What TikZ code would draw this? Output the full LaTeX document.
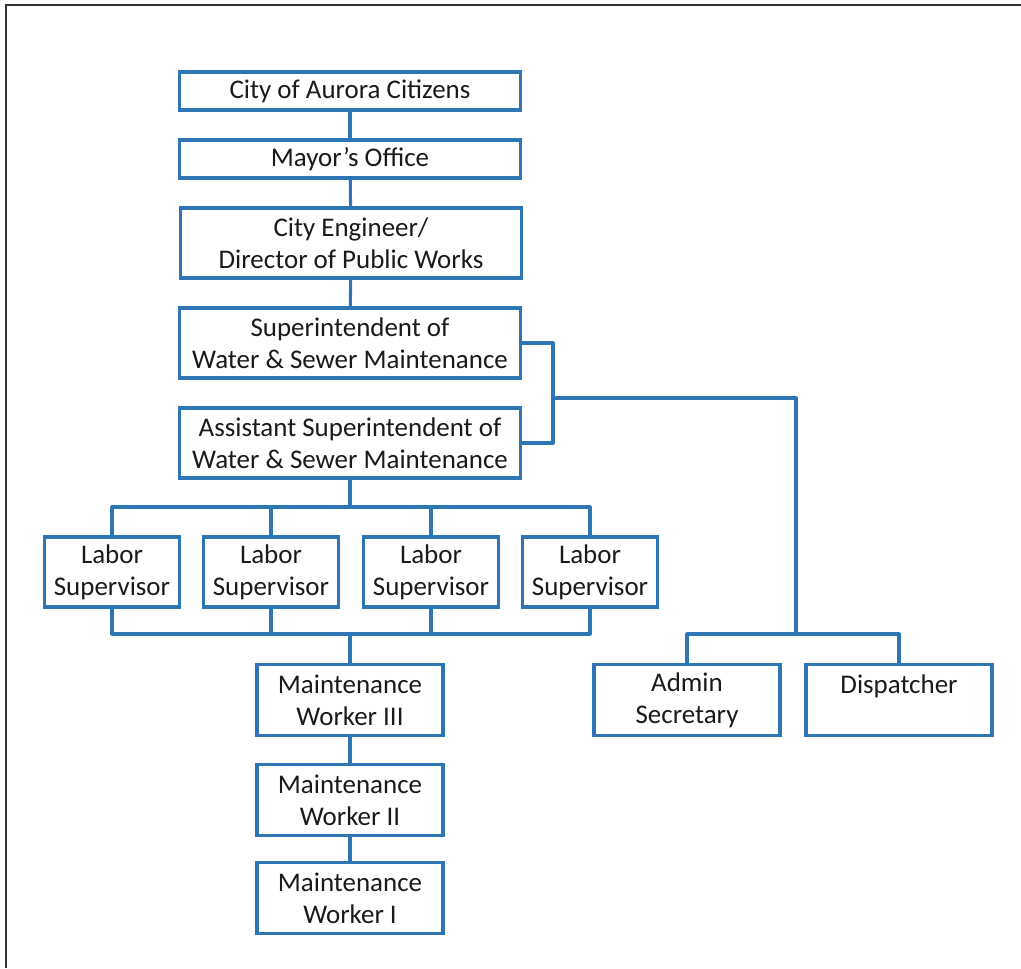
\documentclass[tikz,border=0pt]{standalone}
\usepackage{fontspec}
\setmainfont{Carlito}
\usepackage{tikz}

\definecolor{orgblue}{RGB}{46,117,182}
\definecolor{orgtext}{RGB}{26,26,26}
\definecolor{framegray}{RGB}{50,50,50}

\tikzset{
	box/.style={draw=orgblue, line width=2.6pt, fill=white, align=center,
		text=orgtext, font=\fontsize{23pt}{27.5pt}\selectfont, inner sep=0pt},
	wide/.style={box, minimum width=10.23cm},
	single/.style={minimum height=1.14cm},
	double/.style={minimum height=2.1cm},
	labor/.style={box, minimum width=4.05cm, minimum height=2.1cm},
	worker/.style={box, minimum width=5.58cm, minimum height=2.13cm},
	link/.style={draw=orgblue, line width=2.6pt, line join=round}
}

\begin{document}
\begin{tikzpicture}[x=0.03cm, y=-0.03cm]
	\useasboundingbox (0,0) rectangle (1021,968);
	% Frame
	\draw [framegray, line width=1.6pt] (1021,5) -- (6,5) -- (6,968);

	% Nodes {top of the chart}
	\node [wide, single] 	(cit)	at (350,91)		{City of Aurora Citizens};
	\node [wide, single] 	(may)	at (350,159)	{Mayor’s Office};
	\node [wide, double] 	(eng)	at (351,243)	{City Engineer/\\Director of Public Works};
	\node [wide, double] 	(sup)	at (350,343)	{Superintendent of\\Water \& Sewer Maintenance};
	\node [wide, double] 	(asst)	at (350,443)	{Assistant Superintendent of\\Water \& Sewer Maintenance};

	% Nodes {labor supervisors}
	\node [labor]			(ls1)	at (112,572)	{Labor\\Supervisor};
	\node [labor]			(ls2)	at (271,572)	{Labor\\Supervisor};
	\node [labor]			(ls3)	at (431,572)	{Labor\\Supervisor};
	\node [labor]			(ls4)	at (590,572)	{Labor\\Supervisor};

	% Nodes {workers and office}
	\node [worker]			(mw3)	at (350,700)	{Maintenance\\Worker III};
	\node [worker]			(mw2)	at (350,800)	{Maintenance\\Worker II};
	\node [worker]			(mw1)	at (350,898)	{Maintenance\\Worker I};
	\node [worker]			(adm)	at (687,700)	{Admin\\Secretary};
	\node [worker]			(dsp)	at (899,700)	{Dispatcher\\~};

	% Junctions
	\coordinate (j1) at (553,398);
	\coordinate (j2) at (796,634);
	\coordinate (b1) at (350,507);
	\coordinate (b2) at (350,634);

	% Paths
	\path [link] (cit) -- (may);
	\path [link] (may) -- (eng);
	\path [link] (eng) -- (sup);
	\path [link] (sup.east) -| (j1) |- (asst.east);
	\path [link] (j1) -| (j2);
	\path [link] (adm.north) |- (j2) -| (dsp.north);
	\path [link] (asst) -- (b1);
	\foreach \n in {ls1,ls2,ls3,ls4}
		\path [link] (b1) -| (\n.north);
	\foreach \n in {ls1,ls2,ls3,ls4}
		\path [link] (\n.south) |- (b2);
	\path [link] (b2) -- (mw3);
	\path [link] (mw3) -- (mw2);
	\path [link] (mw2) -- (mw1);

\end{tikzpicture}
\end{document}
